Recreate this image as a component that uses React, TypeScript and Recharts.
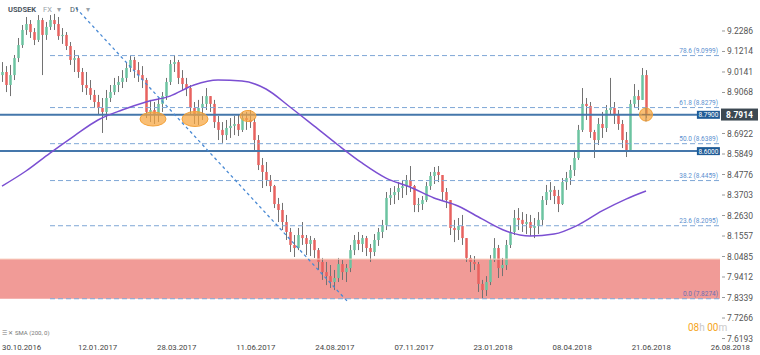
import React from "react";
import {
	ComposedChart,
	Bar,
	Line,
	XAxis,
	YAxis,
	ReferenceLine,
	ReferenceArea,
	ReferenceDot
} from "recharts";

// daily-ish USDSEK candles (open = previous close)
const firstOpen = 8.998;

const highs = [
	9.066, 9.045, 9.051, 9.103, 9.192, 9.26, 9.302, 9.286, 9.244, 9.312,
	9.297, 9.276, 9.312, 9.318, 9.302, 9.244, 9.223, 9.171, 9.129, 9.103,
	9.035, 9.014, 8.972, 8.92, 8.894, 8.878, 8.92, 8.946, 8.983, 8.993,
	9.024, 9.066, 9.098, 9.093, 9.066, 9.045, 8.983, 8.868, 8.857, 8.878,
	8.909, 8.983, 9.077, 9.103, 9.077, 9.024, 8.983, 8.946, 8.857, 8.868,
	8.888, 8.93, 8.888, 8.868, 8.784, 8.752, 8.763, 8.773, 8.784, 8.794,
	8.805, 8.805, 8.815, 8.773, 8.684, 8.564, 8.543, 8.475, 8.423, 8.355,
	8.329, 8.266, 8.198, 8.161, 8.198, 8.229, 8.161, 8.156, 8.145, 8.093,
	8.041, 8.02, 8.004, 7.978, 8.041, 8.03, 8.009, 8.109, 8.161, 8.177,
	8.161, 8.156, 8.114, 8.166, 8.198, 8.24, 8.386, 8.407, 8.417, 8.438,
	8.449, 8.475, 8.522, 8.423, 8.355, 8.365, 8.438, 8.491, 8.517, 8.522,
	8.47, 8.407, 8.344, 8.24, 8.25, 8.266, 8.145, 8.056, 8.051, 8.02,
	7.926, 7.946, 8.056, 8.145, 8.109, 8.041, 8.135, 8.213, 8.292, 8.302,
	8.281, 8.271, 8.266, 8.25, 8.281, 8.365, 8.423, 8.438, 8.417, 8.397,
	8.459, 8.491, 8.527, 8.595, 8.737, 8.93, 8.878, 8.857, 8.711, 8.773,
	8.805, 8.841, 8.983, 8.857, 8.815, 8.763, 8.7, 8.868, 8.951, 8.92,
	9.035, 9.024
];

const lows = [
	8.962, 8.909, 8.888, 8.972, 9.066, 9.14, 9.208, 9.192, 9.155, 9.171,
	8.998, 9.182, 9.234, 9.234, 9.182, 9.161, 9.129, 9.051, 9.014, 8.983,
	8.909, 8.894, 8.868, 8.826, 8.789, 8.695, 8.763, 8.857, 8.894, 8.909,
	8.93, 8.962, 9.014, 8.983, 8.962, 8.93, 8.773, 8.752, 8.742, 8.752,
	8.805, 8.868, 8.946, 9.014, 8.951, 8.92, 8.888, 8.789, 8.742, 8.737,
	8.763, 8.815, 8.805, 8.721, 8.658, 8.643, 8.658, 8.669, 8.684, 8.679,
	8.7, 8.711, 8.721, 8.606, 8.501, 8.407, 8.417, 8.386, 8.302, 8.229,
	8.187, 8.135, 8.072, 8.046, 8.082, 8.109, 8.056, 8.051, 8.041, 7.978,
	7.926, 7.899, 7.884, 7.873, 7.915, 7.926, 7.915, 7.967, 8.056, 8.082,
	8.072, 8.051, 8.02, 8.051, 8.104, 8.145, 8.187, 8.318, 8.323, 8.344,
	8.355, 8.37, 8.386, 8.281, 8.281, 8.292, 8.334, 8.397, 8.428, 8.438,
	8.344, 8.302, 8.161, 8.124, 8.135, 8.109, 8.02, 7.967, 7.978, 7.863,
	7.831, 7.842, 7.899, 8.02, 7.936, 7.946, 7.978, 8.093, 8.161, 8.187,
	8.177, 8.166, 8.156, 8.145, 8.166, 8.213, 8.318, 8.344, 8.323, 8.281,
	8.318, 8.397, 8.423, 8.47, 8.554, 8.7, 8.763, 8.669, 8.564, 8.632,
	8.669, 8.7, 8.789, 8.742, 8.711, 8.616, 8.569, 8.606, 8.826, 8.815,
	8.868, 8.773
];

const closes = [
	9.014, 8.946, 8.998, 9.087, 9.155, 9.234, 9.265, 9.223, 9.182, 9.286,
	9.208, 9.25, 9.286, 9.265, 9.202, 9.208, 9.15, 9.077, 9.087, 9.014,
	8.946, 8.93, 8.894, 8.857, 8.826, 8.805, 8.878, 8.909, 8.946, 8.962,
	8.983, 9.035, 9.077, 9.024, 8.998, 8.972, 8.805, 8.815, 8.789, 8.847,
	8.888, 8.962, 9.056, 9.066, 8.983, 8.951, 8.93, 8.826, 8.784, 8.826,
	8.847, 8.888, 8.847, 8.752, 8.711, 8.684, 8.721, 8.732, 8.742, 8.711,
	8.773, 8.763, 8.752, 8.658, 8.527, 8.491, 8.449, 8.417, 8.323, 8.292,
	8.229, 8.177, 8.109, 8.093, 8.161, 8.145, 8.114, 8.135, 8.082, 8.02,
	7.967, 7.946, 7.915, 7.936, 8.009, 7.967, 7.988, 8.082, 8.135, 8.114,
	8.145, 8.093, 8.072, 8.135, 8.177, 8.213, 8.355, 8.37, 8.386, 8.407,
	8.417, 8.449, 8.417, 8.318, 8.323, 8.344, 8.417, 8.47, 8.491, 8.475,
	8.386, 8.344, 8.198, 8.187, 8.208, 8.145, 8.041, 8.02, 8.009, 7.905,
	7.873, 7.915, 8.03, 8.093, 7.988, 8.004, 8.109, 8.177, 8.25, 8.24,
	8.219, 8.229, 8.198, 8.208, 8.24, 8.344, 8.386, 8.397, 8.365, 8.323,
	8.438, 8.459, 8.501, 8.564, 8.711, 8.847, 8.836, 8.7, 8.658, 8.742,
	8.721, 8.815, 8.826, 8.794, 8.742, 8.658, 8.606, 8.847, 8.888, 8.868,
	8.998, 8.7914
];

// SMA(200) read at every 6th bar
const smaBars = [0, 6, 12, 18, 24, 30, 36, 42, 48, 54, 60, 66, 72, 78, 84, 90, 96, 102, 108, 114, 120, 126, 132, 138, 144, 150, 156, 161];
const smaValues = [
	8.417, 8.496, 8.59, 8.679, 8.763, 8.815, 8.857, 8.888, 8.946, 8.972,
	8.967, 8.925, 8.831, 8.732, 8.632, 8.538, 8.459, 8.412, 8.355, 8.313,
	8.245, 8.182, 8.156, 8.166, 8.213, 8.287, 8.349, 8.391
];

const dateTicks = [4.62, 24.4, 44.17, 63.95, 83.72, 103.5, 123.27, 143.05, 162.82, 182.6];
const dateLabels = [
	"30.10.2016", "12.01.2017", "28.03.2017", "11.06.2017", "24.08.2017",
	"07.11.2017", "23.01.2018", "08.04.2018", "21.06.2018", "26.08.2018"
];

const priceTicks = [
	9.2286, 9.1214, 9.0141, 8.9068, 8.6922, 8.5849, 8.4776, 8.3703,
	8.263, 8.1557, 8.0485, 7.9412, 7.8339, 7.7266, 7.6193
];

const fibNames = ["78.6", "61.8", "50.0", "38.2", "23.6", "0.0"];
const fibValues = [9.0999, 8.8279, 8.6389, 8.4459, 8.2095, 7.8274];

const supportLevels = [8.79, 8.6];
const zoneTop = 8.035;
const lastPrice = 8.7914;

// touches of 8.79 (bar position, price, half width, half height)
const touchBars = [38.25, 48.75, 62, 161.5];
const touchPrices = [8.768, 8.768, 8.784, 8.7914];
const touchRx = [13, 13, 8, 6.5];
const touchRy = [7, 7.5, 5.5, 6.5];

const trendStart = { x: 19, y: 9.349 };
const trendEnd = { x: 86.75, y: 7.816 };

const FONT = "Roboto, 'Open Sans', sans-serif";

const data = closes.map((close, i) => {
	const open = i === 0 ? firstOpen : closes[i - 1];
	const high = Math.max(highs[i], open, close);
	const low = Math.min(lows[i], open, close);
	return { t: i + 0.5, open, close, high, low, range: [low, high] };
});

const smaData = smaBars.map((b, i) => ({ t: b + 0.5, sma: smaValues[i] }));

const Candle = (props: any) => {
	const { x, y, width, height, payload } = props;
	if (!payload || x == null) return null;
	const { open, close, high, low } = payload;
	const top = Math.min(y, y + height);
	const h = Math.abs(height);
	const k = high - low > 0 ? h / (high - low) : 0;
	const yo = top + (high - open) * k;
	const yc = top + (high - close) * k;
	const cx = Math.round(x + width / 2) + 0.5;
	const up = close >= open;
	return (
		<g>
			<line x1={cx} x2={cx} y1={top} y2={top + h} stroke="#727272" strokeWidth={1} />
			<rect
				x={cx - 1.25}
				y={Math.min(yo, yc)}
				width={2.5}
				height={Math.max(1, Math.abs(yo - yc))}
				fill={up ? "#6cc4a1" : "#e8625f"}
			/>
		</g>
	);
};

const PriceTick = (props: any) => {
	const { y, payload } = props;
	return (
		<g>
			<line x1={722} x2={725} y1={y} y2={y} stroke="#999" />
			<text x={727} y={y + 3} fontSize={8.5} fill="#555" fontFamily={FONT}>
				{Number(payload.value).toFixed(4)}
			</text>
		</g>
	);
};

const DateTick = (props: any) => {
	const { x, index } = props;
	const first = index === 0;
	return (
		<text
			x={first ? 2 : x}
			y={350}
			textAnchor={first ? "start" : "middle"}
			fontSize={7.8}
			fill="#444"
			fontFamily={FONT}
		>
			{dateLabels[index]}
		</text>
	);
};

export default function App() {
	return (
		<div style={{ position: "absolute", left: 0, top: 0, width: 760, height: 355, background: "#fff", fontFamily: FONT }}>
			<ComposedChart width={760} height={355} data={data} margin={{ top: 0, right: 0, bottom: 0, left: 0 }}>
				<XAxis
					type="number"
					dataKey="t"
					domain={[0, 190]}
					ticks={dateTicks}
					interval={0}
					tick={<DateTick />}
					tickLine={false}
					axisLine={false}
					height={15}
					allowDataOverflow
				/>
				<YAxis
					type="number"
					orientation="right"
					mirror
					domain={[7.6116, 9.3908]}
					ticks={priceTicks}
					interval={0}
					tick={<PriceTick />}
					tickLine={false}
					axisLine={false}
					allowDataOverflow
				/>
				<ReferenceArea x1={0} x2={180} y1={fibValues[5]} y2={zoneTop} fill="#f19b97" fillOpacity={1} stroke="none" />
				<ReferenceLine
					segment={[{ x: 0, y: zoneTop }, { x: 180, y: zoneTop }]}
					stroke="#f8cdbd"
					strokeWidth={1}
				/>
				{fibValues.map((v) => (
					<ReferenceLine
						key={`fib-${v}`}
						segment={[{ x: 12.5, y: v }, { x: 180, y: v }]}
						stroke="#7ea7d6"
						strokeDasharray="5 3"
						strokeWidth={1}
					/>
				))}
				{supportLevels.map((v) => (
					<ReferenceLine
						key={`sup-${v}`}
						segment={[{ x: 0, y: v }, { x: 174.5, y: v }]}
						stroke="#4577ab"
						strokeWidth={2}
					/>
				))}
				<ReferenceLine
					segment={[trendStart, trendEnd]}
					stroke="#4a8ad4"
					strokeDasharray="3 3"
					strokeWidth={1.3}
				/>
				<Line
					data={smaData}
					dataKey="sma"
					type="monotone"
					stroke="#7b4fd2"
					strokeWidth={1.5}
					dot={false}
					activeDot={false}
					isAnimationActive={false}
				/>
				<Bar dataKey="range" barSize={3} shape={<Candle />} isAnimationActive={false} />
				{touchBars.map((b, i) => (
					<ReferenceDot
						key={`touch-${i}`}
						x={b}
						y={touchPrices[i]}
						shape={(p: any) => (
							<g>
								<ellipse cx={p.cx} cy={p.cy} rx={touchRx[i]} ry={touchRy[i]} fill="#f6a53f" fillOpacity={0.72} stroke="#f3a23a" />
								{i === touchBars.length - 1 && (
									<g stroke="#9a7a55" strokeWidth={0.8}>
										<line x1={p.cx} x2={p.cx} y1={p.cy - 7} y2={p.cy + 7} />
										<line x1={p.cx - 4} x2={p.cx + 4} y1={p.cy} y2={p.cy} />
									</g>
								)}
							</g>
						)}
					/>
				))}
				{fibValues.map((v, i) => (
					<ReferenceDot
						key={`fibl-${v}`}
						x={179.5}
						y={v}
						shape={(p: any) => (
							<text x={p.cx} y={p.cy - 3} textAnchor="end" fontSize={6.5} fill={i === 5 ? "#6b6fb5" : "#5b8fcf"} fontFamily={FONT}>
								{`${fibNames[i]} (${v.toFixed(4)})`}
							</text>
						)}
					/>
				))}
				{supportLevels.map((v) => (
					<ReferenceDot
						key={`supl-${v}`}
						x={177.1}
						y={v}
						shape={(p: any) => (
							<g>
								<rect x={p.cx - 11.5} y={p.cy - 4} width={23} height={8} fill="#1f5b96" />
								<text x={p.cx} y={p.cy + 2.5} textAnchor="middle" fontSize={6.5} fill="#fff" fontFamily={FONT}>
									{v.toFixed(4)}
								</text>
							</g>
						)}
					/>
				))}
				<ReferenceDot
					x={185}
					y={lastPrice}
					shape={(p: any) => (
						<g>
							<rect x={p.cx - 19} y={p.cy - 6} width={37} height={12} fill="#3c4852" />
							<text x={p.cx - 0.5} y={p.cy + 3} textAnchor="middle" fontSize={8.5} fontWeight="bold" fill="#fff" fontFamily={FONT}>
								{lastPrice.toFixed(4)}
							</text>
						</g>
					)}
				/>
			</ComposedChart>
			<div style={{ position: "absolute", left: 8, top: 5, fontSize: 7.5, color: "#9aa3ab", whiteSpace: "nowrap" }}>
				<span style={{ color: "#4b5661", fontWeight: "bold" }}>USDSEK</span>
				<span style={{ marginLeft: 7 }}>FX</span>
				<span style={{ marginLeft: 5 }}>▾</span>
				<span style={{ marginLeft: 9, color: "#4b5661" }}>D1</span>
				<span style={{ marginLeft: 7 }}>▾</span>
			</div>
			<div style={{ position: "absolute", left: 2, top: 329, fontSize: 6, color: "#777", whiteSpace: "nowrap" }}>
				☰ ✕ SMA (200, 0)
			</div>
			<div style={{ position: "absolute", left: 688, top: 322, fontSize: 10, whiteSpace: "nowrap" }}>
				<span style={{ color: "#f5a623" }}>08</span>
				<span style={{ color: "#c8c8c8" }}>h </span>
				<span style={{ color: "#f5a623" }}>00</span>
				<span style={{ color: "#c8c8c8" }}>m</span>
			</div>
		</div>
	);
}
